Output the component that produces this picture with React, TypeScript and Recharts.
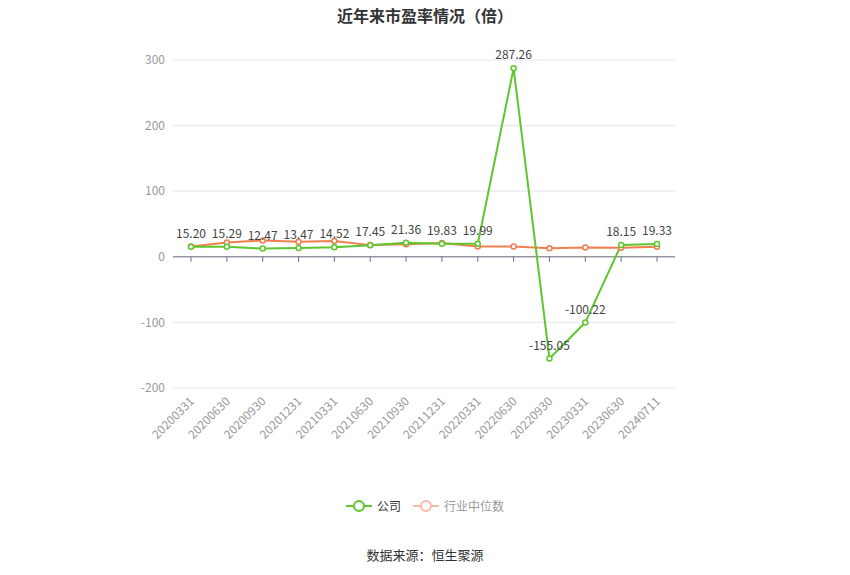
import React from 'react';
import { LineChart, Line, XAxis, YAxis, CartesianGrid, LabelList, ReferenceLine } from 'recharts';

const periods = [
  '20200331', '20200630', '20200930', '20201231', '20210331', '20210630', '20210930',
  '20211231', '20220331', '20220630', '20220930', '20230331', '20230630', '20240711',
];
const companyPE = [15.2, 15.29, 12.47, 13.47, 14.52, 17.45, 21.36, 19.83, 19.99, 287.26, -155.05, -100.22, 18.15, 19.33];
const industryPE = [15.7, 21.8, 24.9, 22.9, 23.9, 17.8, 19.3, 20.9, 15.7, 15.7, 13.2, 14.2, 13.7, 15.2];
const yTicks = [-200, -100, 0, 100, 200, 300];

const GREEN = '#5ec62f';
const ORANGE = '#ef7f4e';
const FONT = '"Noto Sans CJK SC", "Noto Sans", sans-serif';

const data = periods.map((p, i) => ({
  period: p,
  company: companyPE[i],
  industry: industryPE[i],
  zero: 0,
}));

const XTick = (props: any) => {
  const { x, y, payload } = props;
  return (
    <text
      x={x + 4}
      y={y + 6}
      textAnchor="end"
      fontSize={12}
      fill="#999"
      fontFamily={FONT}
      transform={`rotate(-45, ${x + 4}, ${y + 6})`}
    >
      {payload.value}
    </text>
  );
};

// small tick marks hanging from the zero line
const ZeroTick = (props: any) => {
  const { cx, cy } = props;
  if (cx == null || cy == null) return null;
  return <line x1={cx} y1={cy} x2={cx} y2={cy + 5} stroke="#6e7079" strokeWidth={1} />;
};

export default function App() {
  return (
    <div style={{ position: 'absolute', left: 0, top: 0, width: 850, height: 575, background: '#fff', fontFamily: FONT }}>
      <div style={{ position: 'absolute', top: 3, width: 850, textAlign: 'center', fontSize: 16, fontWeight: 'bold', color: '#333' }}>
        近年来市盈率情况（倍）
      </div>
      <LineChart width={850} height={575} data={data} margin={{ top: 60, right: 175, bottom: 0, left: 0 }}>
        <CartesianGrid vertical={false} stroke="#e0e6f1" />
        <XAxis
          dataKey="period"
          axisLine={false}
          tickLine={false}
          interval={0}
          height={187}
          padding={{ left: 18, right: 18 }}
          tick={<XTick />}
        />
        <YAxis
          domain={[-200, 300]}
          ticks={yTicks}
          width={173}
          axisLine={false}
          tickLine={false}
          tick={{ fontSize: 12, fill: '#999', fontFamily: FONT }}
        />
        <ReferenceLine y={0} stroke="#6e7079" strokeWidth={1} />
        <Line
          dataKey="zero"
          stroke="none"
          dot={<ZeroTick />}
          activeDot={false}
          isAnimationActive={false}
          legendType="none"
        />
        <Line
          dataKey="industry"
          stroke={ORANGE}
          strokeWidth={2}
          dot={{ r: 2.5, fill: '#fff', stroke: ORANGE, strokeWidth: 1.5 }}
          isAnimationActive={false}
        />
        <Line
          dataKey="company"
          stroke={GREEN}
          strokeWidth={2}
          dot={{ r: 2.5, fill: '#fff', stroke: GREEN, strokeWidth: 1.5 }}
          isAnimationActive={false}
        >
          <LabelList
            dataKey="company"
            position="top"
            offset={9}
            fontSize={12}
            fill="#444"
            fontFamily={FONT}
            formatter={(v: any) => Number(v).toFixed(2)}
          />
        </Line>
      </LineChart>
      <div style={{ position: 'absolute', top: 497, left: 0, width: 850, display: 'flex', justifyContent: 'center', alignItems: 'center', fontSize: 12 }}>
        <svg width={26} height={14} style={{ marginRight: 5 }}>
          <line x1={0} y1={7} x2={26} y2={7} stroke={GREEN} strokeWidth={2} />
          <circle cx={13} cy={7} r={5} fill="#fff" stroke={GREEN} strokeWidth={2} />
        </svg>
        <span style={{ color: '#333', marginRight: 12 }}>公司</span>
        <svg width={26} height={14} style={{ marginRight: 5 }}>
          <line x1={0} y1={7} x2={26} y2={7} stroke="#f9bba3" strokeWidth={2} />
          <circle cx={13} cy={7} r={5} fill="#fff" stroke="#f9bba3" strokeWidth={2} />
        </svg>
        <span style={{ color: '#999' }}>行业中位数</span>
      </div>
      <div style={{ position: 'absolute', top: 545, width: 850, textAlign: 'center', fontSize: 13, color: '#333' }}>
        数据来源：恒生聚源
      </div>
    </div>
  );
}
